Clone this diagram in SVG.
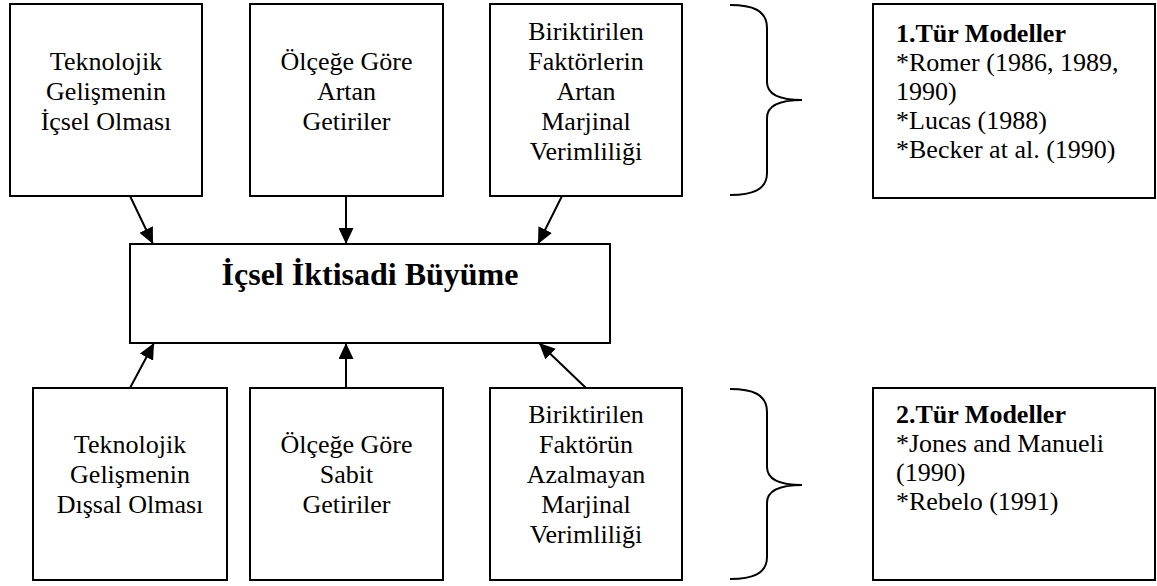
<svg xmlns="http://www.w3.org/2000/svg" width="1157" height="586" viewBox="0 0 1157 586">
<style>
  .box { fill: #ffffff; stroke: #000000; stroke-width: 2; }
  .t { font-family: "Liberation Serif", "Times New Roman", serif; font-size: 26px; fill: #000000; }
  .c { text-anchor: middle; }
  .b { font-weight: bold; }
  .title { font-family: "Liberation Serif", "Times New Roman", serif; font-size: 32px; font-weight: bold; text-anchor: middle; fill: #000000; }
  .conn { stroke: #000000; stroke-width: 2; fill: none; marker-end: url(#ah); }
  .brace { stroke: #000000; stroke-width: 2; fill: none; }
</style>
<defs>
  <marker id="ah" markerUnits="userSpaceOnUse" viewBox="0 0 16 15" markerWidth="16" markerHeight="15" refX="16" refY="7.5" orient="auto">
    <path d="M0,0 L16,7.5 L0,15 z" fill="#000000"/>
  </marker>
</defs>
<rect width="1157" height="586" fill="#ffffff"/>

<g id="top1">
  <rect class="box" x="10" y="4" width="192" height="192"/>
  <text class="t c" x="106" y="70">Teknolojik</text>
  <text class="t c" x="106" y="100">Gelişmenin</text>
  <text class="t c" x="106" y="130">İçsel Olması</text>
</g>
<g id="top2">
  <rect class="box" x="250" y="4" width="193" height="192"/>
  <text class="t c" x="346.5" y="70">Ölçeğe Göre</text>
  <text class="t c" x="346.5" y="100">Artan</text>
  <text class="t c" x="346.5" y="130">Getiriler</text>
</g>
<g id="top3">
  <rect class="box" x="490" y="4" width="192" height="192"/>
  <text class="t c" x="586" y="40">Biriktirilen</text>
  <text class="t c" x="586" y="70">Faktörlerin</text>
  <text class="t c" x="586" y="100">Artan</text>
  <text class="t c" x="586" y="130">Marjinal</text>
  <text class="t c" x="586" y="160">Verimliliği</text>
</g>
<g id="center">
  <rect class="box" x="130" y="244" width="480" height="99"/>
  <text class="title" x="370" y="285">İçsel İktisadi Büyüme</text>
</g>
<g id="bot1">
  <rect class="box" x="33" y="388" width="194" height="192"/>
  <text class="t c" x="130" y="453">Teknolojik</text>
  <text class="t c" x="130" y="483">Gelişmenin</text>
  <text class="t c" x="130" y="513">Dışsal Olması</text>
</g>
<g id="bot2">
  <rect class="box" x="250" y="388" width="193" height="192"/>
  <text class="t c" x="346.5" y="453">Ölçeğe Göre</text>
  <text class="t c" x="346.5" y="483">Sabit</text>
  <text class="t c" x="346.5" y="513">Getiriler</text>
</g>
<g id="bot3">
  <rect class="box" x="490" y="388" width="192" height="192"/>
  <text class="t c" x="586" y="423">Biriktirilen</text>
  <text class="t c" x="586" y="453">Faktörün</text>
  <text class="t c" x="586" y="483">Azalmayan</text>
  <text class="t c" x="586" y="513">Marjinal</text>
  <text class="t c" x="586" y="543">Verimliliği</text>
</g>
<g id="models1">
  <rect class="box" x="873" y="4" width="282" height="194"/>
  <text class="t b" x="896" y="42">1.Tür Modeller</text>
  <text class="t" x="896" y="71">*Romer (1986, 1989,</text>
  <text class="t" x="896" y="100">1990)</text>
  <text class="t" x="896" y="129">*Lucas (1988)</text>
  <text class="t" x="896" y="158">*Becker at al. (1990)</text>
</g>
<g id="models2">
  <rect class="box" x="873" y="388" width="282" height="192"/>
  <text class="t b" x="896" y="423">2.Tür Modeller</text>
  <text class="t" x="896" y="452">*Jones and Manueli</text>
  <text class="t" x="896" y="481">(1990)</text>
  <text class="t" x="896" y="510">*Rebelo (1991)</text>
</g>
<g id="braces">
  <path class="brace" d="M730,5 C752,5 767,10 767,28 L767,82 C767,94 780,100 802,100 C780,100 767,106 767,118 L767,173 C767,190 752,195 730,195"/>
  <path class="brace" d="M730,389 C752,389 767,394 767,412 L767,467 C767,479 780,485 802,485 C780,485 767,491 767,503 L767,557 C767,574 752,579 730,579"/>
</g>
<g id="connectors">
  <line class="conn" x1="130" y1="196" x2="153" y2="244"/>
  <line class="conn" x1="346" y1="196" x2="346" y2="244"/>
  <line class="conn" x1="562" y1="196" x2="538" y2="244"/>
  <line class="conn" x1="130" y1="388" x2="154" y2="343"/>
  <line class="conn" x1="346" y1="388" x2="346" y2="343"/>
  <line class="conn" x1="586" y1="388" x2="539" y2="343"/>
</g>
</svg>
